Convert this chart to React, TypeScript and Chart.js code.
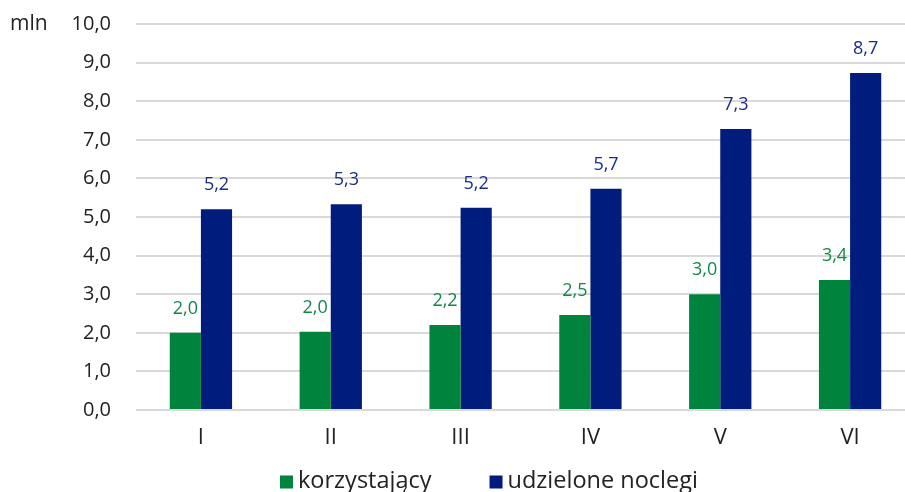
import React, { useEffect, useRef } from "react";
import { Chart, registerables } from "chart.js";

Chart.register(...registerables);

const categories = ["I", "II", "III", "IV", "V", "VI"];
const korzystajacy = [2.0, 2.03, 2.2, 2.46, 3.0, 3.37];
const noclegi = [5.2, 5.33, 5.24, 5.73, 7.28, 8.73];
const yTicks = [0, 1, 2, 3, 4, 5, 6, 7, 8, 9, 10];
const seriesNames = ["korzystający", "udzielone noclegi"];

const GREEN = "#00843d";
const NAVY = "#001c7d";
const GREEN_TXT = "#13874a";
const NAVY_TXT = "#1a2b8c";
const FONT = "'Open Sans', sans-serif";

const fmt = (v: number) => v.toFixed(1).replace(".", ",");

const labelsPlugin = {
  id: "barLabels",
  afterDatasetsDraw(chart: any) {
    const ctx = chart.ctx;
    ctx.save();
    ctx.font = `18px ${FONT}`;
    ctx.textAlign = "center";
    ctx.textBaseline = "middle";
    chart.data.datasets.forEach((ds: any, i: number) => {
      const meta = chart.getDatasetMeta(i);
      ctx.fillStyle = i === 0 ? GREEN_TXT : NAVY_TXT;
      meta.data.forEach((bar: any, j: number) => {
        ctx.fillText(fmt(ds.data[j]), bar.x, bar.y - 24);
      });
    });
    // unit label
    ctx.fillStyle = "#222";
    ctx.textAlign = "left";
    ctx.font = `21px ${FONT}`;
    ctx.fillText("mln", 10, chart.chartArea.top);
    ctx.restore();
  },
};

const legendPlugin = {
  id: "customLegend",
  afterDraw(chart: any) {
    const ctx = chart.ctx;
    ctx.save();
    ctx.font = `23.5px ${FONT}`;
    ctx.textBaseline = "middle";
    ctx.textAlign = "left";
    const cy = chart.height - 11;
    const box = 13;
    const gapText = 5;
    const gapItems = 58;
    const widths = chart.data.datasets.map((ds: any) => box + gapText + ctx.measureText(ds.label).width);
    let x = 280;
    chart.data.datasets.forEach((ds: any, i: number) => {
      ctx.fillStyle = ds.backgroundColor;
      ctx.fillRect(x, cy - box / 2 + 1, box, box);
      ctx.fillStyle = "#222";
      ctx.fillText(ds.label, x + box + gapText, cy);
      x += widths[i] + gapItems;
    });
    ctx.restore();
  },
};

export default function App() {
  const ref = useRef<HTMLCanvasElement>(null);
  useEffect(() => {
    const chart = new Chart(ref.current!, {
      type: "bar",
      data: {
        labels: categories,
        datasets: [
          { label: seriesNames[0], data: korzystajacy, backgroundColor: GREEN },
          { label: seriesNames[1], data: noclegi, backgroundColor: NAVY },
        ],
      },
      plugins: [labelsPlugin, legendPlugin],
      options: {
        animation: false,
        responsive: false,
        devicePixelRatio: 1,
        datasets: { bar: { barPercentage: 1, categoryPercentage: 0.48 } },
        layout: { padding: { top: 24, left: 0, right: 0, bottom: 38 } },
        scales: {
          x: {
            grid: { display: false, drawTicks: false },
            border: { display: false },
            ticks: { color: "#222", font: { family: FONT, size: 22 }, padding: 15 },
            afterFit: (s: any) => { s.height = 44; s.paddingLeft = 0; s.paddingRight = 0; },
          },
          y: {
            min: 0,
            max: 10,
            afterBuildTicks: (s: any) => { s.ticks = yTicks.map((v) => ({ value: v })); },
            grid: { color: "#d9d9d9", lineWidth: 2, drawTicks: false },
            border: { display: false },
            ticks: {
              color: "#222",
              font: { family: FONT, size: 20 },
              padding: 25,
              callback: (v: any) => fmt(Number(v)),
            },
            afterFit: (s: any) => { s.width = 136; s.paddingTop = 0; s.paddingBottom = 0; },
          },
        },
        plugins: {
          legend: { display: false },
          tooltip: { enabled: false },
        },
      },
    });
    return () => chart.destroy();
  }, []);
  return (
    <div style={{ position: "fixed", left: 0, top: 0, width: 905, height: 492, overflow: "hidden", background: "#fff" }}>
      <canvas ref={ref} width={915} height={492} style={{ display: "block" }} />
    </div>
  );
}
